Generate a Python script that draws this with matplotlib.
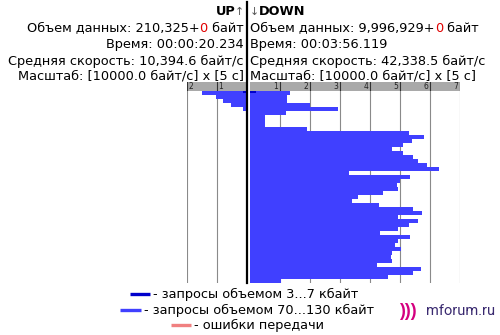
import matplotlib
matplotlib.use("Agg")
import matplotlib.pyplot as plt
from matplotlib.lines import Line2D

W, H = 500, 335

# ---- data (units: 10000 bytes/s per 5 s row) ----
down_large = [1.35, 1.25, 1.25, 2.0, 2.95, 1.2, 0.5, 0.5, 0.5, 1.9,
              5.3, 5.8, 5.4, 5.1, 4.75, 5.1, 5.45, 5.6, 5.9, 6.3,
              3.3, 5.35, 5.0, 4.9, 4.95, 4.45, 3.6, 3.4, 4.3, 5.45,
              5.75, 4.95, 5.6, 5.3, 4.95, 4.35, 5.35, 4.95, 4.85, 5.05,
              4.75, 4.7, 4.75, 4.25, 5.7, 5.45, 4.6, 1.05]
down_small = [0.2]
up_large = [1.5, 1.05, 0.8, 0.55, 0.15]
up_small = [0.15]

right_ticks = [1, 2, 3, 4, 5, 6, 7]
left_ticks = [1, 2]

up_text = [
    [("Объем данных: 210,325+", "black"), ("0", "#e00000"), (" байт", "black")],
    [("Время: 00:00:20.234", "black")],
    [("Средняя скорость: 10,394.6 байт/с", "black")],
    [("Масштаб: [10000.0 байт/с] x [5 с]", "black")],
]
down_text = [
    [("Объем данных: 9,996,929+", "black"), ("0", "#e00000"), (" байт", "black")],
    [("Время: 00:03:56.119", "black")],
    [("Средняя скорость: 42,338.5 байт/с", "black")],
    [("Масштаб: [10000.0 байт/с] x [5 с]", "black")],
]
legend_labels = ["- запросы объемом 3...7 кбайт",
                 "- запросы объемом 70...130 кбайт",
                 "- ошибки передачи"]

C_LARGE = "#4040ff"
C_SMALL = "#0000cc"
C_ERR = "#f08080"
C_HEAD = "#a9a9a9"
C_GRID = "#8a8a8a"

fig = plt.figure(figsize=(5, 3.35), dpi=100)
fig.patch.set_facecolor("white")


def rect(x, y, w, h):
    return [x / W, 1 - (y + h) / H, w / W, h / H]


def fx(x):
    return x / W


def fy(y):
    return 1 - y / H


nrows = len(down_large)

# ---- right panel ----
axR = fig.add_axes(rect(249.5, 91, 210, 192))
axR.set_xlim(0, 7)
axR.set_ylim(nrows, 0)
for t in right_ticks:
    axR.axvline(t, color=C_GRID, lw=0.8, zorder=1)
axR.barh(range(nrows), down_large, height=1.0, align="edge", color=C_LARGE, zorder=2, linewidth=0)
axR.barh(range(len(down_small)), down_small, height=0.5, align="edge", color=C_SMALL, zorder=3, linewidth=0)
axR.axis("off")

axRh = fig.add_axes(rect(249.5, 82, 210, 9))
axRh.set_xlim(0, 7)
axRh.set_ylim(0, 1)
axRh.set_facecolor(C_HEAD)
for t in right_ticks:
    axRh.axvline(t, color="#333333", lw=0.8)
    axRh.text(t - 0.05, 0.45, str(t), ha="right", va="center", fontsize=5.5, color="#222222")
axRh.set_xticks([]); axRh.set_yticks([])
for s in axRh.spines.values():
    s.set_visible(False)

# ---- left panel ----
axL = fig.add_axes(rect(187, 91, 60, 192))
axL.set_xlim(2, 0)
axL.set_ylim(nrows, 0)
for t in left_ticks:
    axL.axvline(t, color=C_GRID, lw=0.8, zorder=1)
axL.barh(range(len(up_large)), up_large, height=1.0, align="edge", color=C_LARGE, zorder=2, linewidth=0)
axL.barh(range(len(up_small)), up_small, height=0.5, align="edge", color=C_SMALL, zorder=3, linewidth=0)
axL.axis("off")

axLh = fig.add_axes(rect(187, 82, 60, 9))
axLh.set_xlim(2, 0)
axLh.set_ylim(0, 1)
axLh.set_facecolor(C_HEAD)
for t in left_ticks:
    axLh.axvline(t, color="#333333", lw=0.8)
    axLh.text(t - 0.05, 0.45, str(t), ha="left", va="center", fontsize=5.5, color="#222222")
axLh.set_xticks([]); axLh.set_yticks([])
for s in axLh.spines.values():
    s.set_visible(False)

# ---- center divider ----
fig.add_artist(Line2D([fx(247), fx(247)], [fy(2), fy(283)], color="black", lw=1.6))

# ---- header texts ----
renderer = fig.canvas.get_renderer()
FS = 9.3


def rich(x, y, pieces, ha, fs=FS, weight="normal"):
    cur = x
    seq = pieces if ha == "left" else list(reversed(pieces))
    for s, c in seq:
        t = fig.text(fx(cur), fy(y), s, color=c, ha=ha, va="baseline",
                     fontsize=fs, fontweight=weight)
        bb = t.get_window_extent(renderer)
        cur = bb.x1 if ha == "left" else bb.x0


baselines = [31.5, 48, 64.5, 79.5]
fig.text(fx(236), fy(15), "UP", ha="right", va="baseline", fontsize=FS, fontweight="bold")
fig.text(fx(244), fy(15), "↑", ha="right", va="baseline", fontsize=FS - 1.5, color="#555555")
fig.text(fx(249.5), fy(15), "↓", ha="left", va="baseline", fontsize=FS - 1.5, color="#555555")
fig.text(fx(259), fy(15), "DOWN", ha="left", va="baseline", fontsize=FS, fontweight="bold")
for b, pieces in zip(baselines, up_text):
    rich(243.5, b, pieces, "right")
for b, pieces in zip(baselines, down_text):
    rich(250.5, b, pieces, "left")

# ---- legend ----
FSL = 9.3
leg = [(130, 150, 294, C_SMALL, legend_labels[0]),
       (120, 141, 310, C_LARGE, legend_labels[1]),
       (171, 191, 325, C_ERR, legend_labels[2])]
for x0, x1, yy, col, lab in leg:
    fig.add_artist(Line2D([fx(x0), fx(x1)], [fy(yy), fy(yy)], color=col, lw=2.4,
                          solid_capstyle="butt"))
    fig.text(fx(x1 + 3), fy(yy + 0.5), lab, ha="left", va="center", fontsize=FSL)

# ---- watermark ----
fig.text(fx(399), fy(311), ")))", ha="left", va="center", fontsize=13,
         fontweight="bold", color="#d4007f", family="Liberation Sans")
fig.text(fx(426), fy(311), "mforum.ru", ha="left", va="center", fontsize=10.5,
         color="#3a2a70", family="Roboto")

fig.savefig("out.png", dpi=100)
